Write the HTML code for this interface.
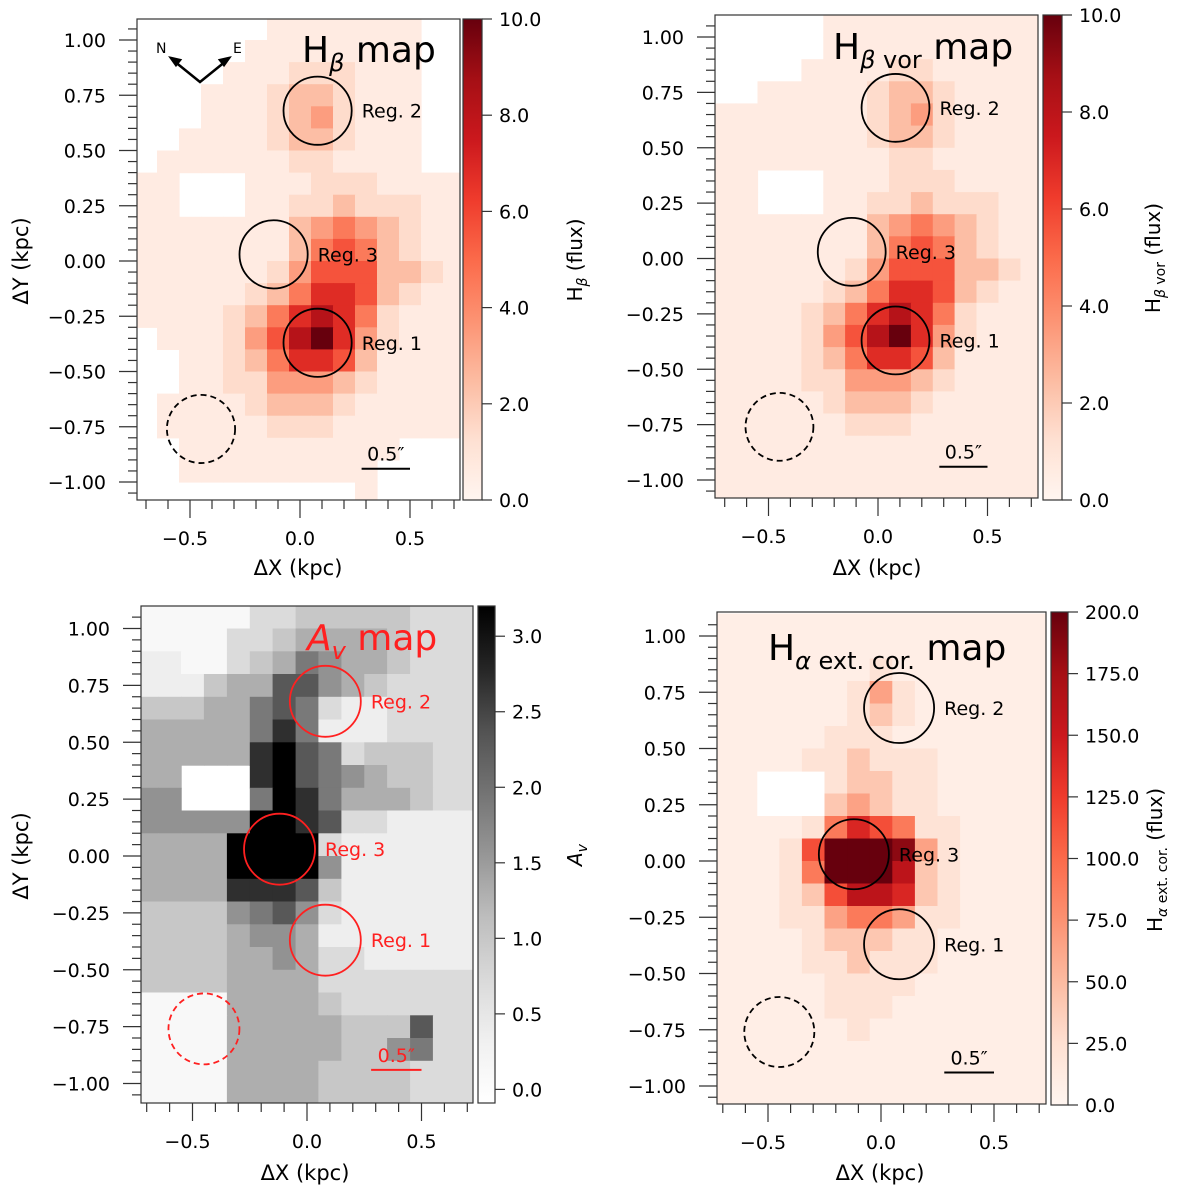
<!DOCTYPE html>
<html><head><meta charset="utf-8">
<style>
html,body{margin:0;padding:0;background:#fff;}
svg{display:block;font-family:"DejaVu Sans","Liberation Sans",sans-serif;}
</style></head>
<body>
<svg id="fig" width="1200" height="1195" viewBox="0 0 1200 1195" xmlns="http://www.w3.org/2000/svg">
<g id="static">
  <text x="302" y="62" font-size="36">H<tspan font-size="24" dy="9" font-style="italic">β</tspan><tspan dy="-9"> map</tspan></text>
  <text x="833" y="59" font-size="36">H<tspan font-size="24" dy="9"><tspan font-style="italic">β</tspan> vor</tspan><tspan dy="-9"> map</tspan></text>
  <text x="307" y="650" font-size="36" fill="#ff2020"><tspan font-style="italic">A</tspan><tspan font-size="24" dy="9" font-style="italic">v</tspan><tspan dy="-9"> map</tspan></text>
  <text x="768" y="660" font-size="36">H<tspan font-size="24" dy="9"><tspan font-style="italic">α</tspan> ext. cor.</tspan><tspan dy="-9"> map</tspan></text>
  <text x="298" y="575" font-size="21" text-anchor="middle">ΔX (kpc)</text>
  <text x="877" y="575" font-size="21" text-anchor="middle">ΔX (kpc)</text>
  <text x="305" y="1180" font-size="21" text-anchor="middle">ΔX (kpc)</text>
  <text x="880" y="1180" font-size="21" text-anchor="middle">ΔX (kpc)</text>
  <text transform="translate(28,261) rotate(-90)" font-size="21" text-anchor="middle">ΔY (kpc)</text>
  <text transform="translate(28,856) rotate(-90)" font-size="21" text-anchor="middle">ΔY (kpc)</text>
  <text transform="translate(582,260) rotate(-90)" font-size="20" text-anchor="middle">H<tspan font-size="14" dy="5" font-style="italic">β</tspan><tspan dy="-5"> (flux)</tspan></text>
  <text transform="translate(1160,258) rotate(-90)" font-size="20" text-anchor="middle">H<tspan font-size="14" dy="5"><tspan font-style="italic">β</tspan> vor</tspan><tspan dy="-5"> (flux)</tspan></text>
  <text transform="translate(582,855) rotate(-90)" font-size="20" text-anchor="middle"><tspan font-style="italic">A</tspan><tspan font-size="14" dy="5" font-style="italic">v</tspan></text>
  <text transform="translate(1162,860) rotate(-90)" font-size="20" text-anchor="middle">H<tspan font-size="14" dy="5"><tspan font-style="italic">α</tspan> ext. cor.</tspan><tspan dy="-5"> (flux)</tspan></text>
  <g stroke="#000" stroke-width="2.5" fill="none">
    <polyline points="174,61 200,82 226,61"/>
    <polygon points="171,58 180,60 176,65" fill="#000"/>
    <polygon points="229,58 220,60 224,65" fill="#000"/>
  </g>
  <text x="156" y="53" font-size="14">N</text>
  <text x="233" y="53" font-size="14">E</text>
</g>
</svg>
<script>
// rows top (y=1.05) to bottom (y=-1.05); cols x=-0.7..0.7 step 0.1; '.' = no data
const xCenters = [-0.7,-0.6,-0.5,-0.4,-0.3,-0.2,-0.1,0,0.1,0.2,0.3,0.4,0.5,0.6,0.7];
const yCenters = [1.05,0.95,0.85,0.75,0.65,0.55,0.45,0.35,0.25,0.15,0.05,-0.05,-0.15,-0.25,-0.35,-0.45,-0.55,-0.65,-0.75,-0.85,-0.95,-1.05];
const hbRows = [
"......1111111..",
".....11111111..",
"....111222111..",
"...1112332111..",
"...1112342111..",
"..11112332111..",
".111111221111..",
"11...1112221111",
"11...1122322211",
"111111134543211",
"111111135653211",
"111111246663321",
"111112357763211",
"111123578752111",
".11124689742111",
"..1123577631111",
"..1122444321111",
".11112333211111",
".11111222111111",
"..1111111111...",
"..111111111....",
"..........1...."];
const hbLevels = [0,0.6,1.4,2.4,3.4,4.5,5.6,6.8,8.2,10];
const hbvRows = [
".....1111111111",
".....1111111111",
"....11112211111",
"..1111123321111",
"111111123421111",
"111111123321111",
"111111112211111",
"11...1112221111",
"11...1122322211",
"111111134543211",
"111111135653211",
"111111246663321",
"111112357763211",
"111123578752111",
"111124689742111",
"111123577631111",
"111122444321111",
"111112333211111",
"111111222111111",
"111111111111111",
"111111111111111",
"111111111111111"];
const hbvLevels = [0,0.6,1.4,2.4,3.4,4.5,5.6,6.8,8.2,10];
const avRows = [
"000002233333222",
"000022344443222",
"110023465443222",
"111344775432222",
"333446762112222",
"444446861112222",
"444448976233322",
"44...8976543322",
"55...6986444322",
"555559987221111",
"444499992111111",
"444499995111111",
"444488873111111",
"333356752111111",
"333345541111111",
"333344542211111",
"333344442222222",
"000044443222222",
"000044444333722",
"000044444335622",
"000044443333222",
"000044443333222"];
const avLevels = [0.1,0.35,0.7,1.0,1.3,1.6,1.9,2.3,2.7,3.2];
const haRows = [
"000000000000000",
"000000000000000",
"000000010000000",
"000000131000000",
"000000121000000",
"000001110000000",
"000011211100000",
"00...1221100000",
"00...2321100000",
"000014654110000",
"000159998310000",
"000149997210000",
"000125776210000",
"000113443110000",
"000012221100000",
"000011211100000",
"000001111000000",
"000001110000000",
"000000100000000",
"000000000000000",
"000000000000000",
"000000000000000"];
const haLevels = [8,22,42,65,90,115,140,160,185,200];
const hbTicks = [0,2,4,6,8,10];
const avTicks = [0,0.5,1,1.5,2,2.5,3];
const haTicks = [0,25,50,75,100,125,150,175,200];
const xTicks = [-0.5,0,0.5];
const yTicks = [1,0.75,0.5,0.25,0,-0.25,-0.5,-0.75,-1];
const regNames = ["Reg. 1","Reg. 2","Reg. 3"];
const regX = [0.08,0.08,-0.12];
const regY = [-0.37,0.68,0.03];
const dashX = -0.45, dashY = -0.76, regR = 0.155;

const NS = "http://www.w3.org/2000/svg";
const svg = document.getElementById('fig');
function mk(tag, attrs, parent){const e=document.createElementNS(NS,tag);for(const k in attrs)e.setAttribute(k,attrs[k]);(parent||svg).appendChild(e);return e;}
function lerp(a,b,t){return a+(b-a)*t;}
function ramp(stops,t){t=Math.max(0,Math.min(1,t));const n=stops.length-1;const i=Math.min(n-1,Math.floor(t*n));const f=t*n-i;const a=stops[i],b=stops[i+1];return `rgb(${Math.round(lerp(a[0],b[0],f))},${Math.round(lerp(a[1],b[1],f))},${Math.round(lerp(a[2],b[2],f))})`;}
const REDS=[[255,245,240],[254,224,210],[252,187,161],[252,146,114],[251,106,74],[239,59,44],[203,24,29],[165,15,21],[103,0,13]];
const GREYS=[[255,255,255],[240,240,240],[217,217,217],[189,189,189],[150,150,150],[115,115,115],[82,82,82],[37,37,37],[0,0,0]];

const panels = [
 {id:1,rows:hbRows,levels:hbLevels,vmin:0,vmax:10,cmap:REDS,ticks:hbTicks,
  x0:300,sx:220,y0:261,sy:221,L:137,T:19,R:460,B:500,cbL:463,cbR:482,cbT:19,cbB:500,color:'#000'},
 {id:2,rows:hbvRows,levels:hbvLevels,vmin:0,vmax:10,cmap:REDS,ticks:hbTicks,
  x0:878,sx:219,y0:258.5,sy:221.5,L:715,T:15,R:1038,B:498,cbL:1043,cbR:1062,cbT:15,cbB:500,color:'#000'},
 {id:3,rows:avRows,levels:avLevels,vmin:-0.09,vmax:3.2,cmap:GREYS,ticks:avTicks,
  x0:307,sx:229,y0:856,sy:227.5,L:141,T:606,R:473,B:1103,cbL:478,cbR:495,cbT:606,cbB:1103,color:'#ff2020'},
 {id:4,rows:haRows,levels:haLevels,vmin:0,vmax:200,cmap:REDS,ticks:haTicks,
  x0:881,sx:226,y0:861,sy:225,L:717,T:612,R:1046,B:1104,cbL:1051,cbR:1068,cbT:612,cbB:1105,color:'#000'}
];

panels.forEach(p=>{
  const X=v=>p.x0+v*p.sx, Y=v=>p.y0-v*p.sy;
  const clipId='clip'+p.id;
  const defs=mk('defs',{});
  const cp=mk('clipPath',{id:clipId},defs);
  mk('rect',{x:p.L,y:p.T,width:p.R-p.L,height:p.B-p.T},cp);
  const g=mk('g',{'clip-path':`url(#${clipId})`});
  
  
  const norm=v=>(v-p.vmin)/(p.vmax-p.vmin);
  p.rows.forEach((row,ri)=>{
    for(let ci=0;ci<row.length;ci++){
      const ch=row[ci]; if(ch==='.') continue;
      const val=p.levels[+ch];
      const x1=X(xCenters[ci]-0.05), x2=X(xCenters[ci]+0.05), y1=Y(yCenters[ri]+0.05), y2=Y(yCenters[ri]-0.05);
      const r=mk('rect',{x:x1.toFixed(1),y:y1.toFixed(1),width:(x2-x1+0.6).toFixed(1),height:(y2-y1+0.6).toFixed(1),fill:ramp(p.cmap,norm(val))},g);
      
      
    }
  });
  const fr=mk('rect',{x:p.L,y:p.T,width:p.R-p.L,height:p.B-p.T,fill:'none',stroke:'#333','stroke-width':1.2});
  
  
  regNames.forEach((n,i)=>{
    const c=mk('circle',{cx:X(regX[i]),cy:Y(regY[i]),r:regR*p.sx,fill:'none',stroke:p.color,'stroke-width':1.8});
    
    
    const t=mk('text',{x:X(regX[i])+regR*p.sx+10,y:Y(regY[i])+7,'font-size':19,fill:p.color});
    t.textContent=n;
    
    
  });
  const dc=mk('circle',{cx:X(dashX),cy:Y(dashY),r:regR*p.sx,fill:'none',stroke:p.color,'stroke-width':1.8,'stroke-dasharray':'6,4'});
  
  
  const sb=mk('line',{x1:X(0.28),x2:X(0.5),y1:Y(-0.94),y2:Y(-0.94),stroke:p.color,'stroke-width':2});
  
  
  const sbt=mk('text',{x:X(0.39),y:Y(-0.94)-8,'font-size':19,'text-anchor':'middle',fill:p.color});
  sbt.textContent='0.5″';
  
  
  for(let k=-7;k<=7;k++){
    const v=k/10, major=(k%5===0);
    const tl=mk('line',{x1:X(v),x2:X(v),y1:p.B,y2:p.B+(major?18:9),stroke:'#333','stroke-width':1.2});
    
    
  }
  xTicks.forEach(v=>{
    const t=mk('text',{x:X(v)+(v<0?-5:0),y:p.B+45,'font-size':19,'text-anchor':'middle'});
    t.textContent=(v<0?'−':'')+Math.abs(v).toFixed(1);
    
    
  });
  for(let k=-21;k<=21;k++){
    const v=k/20; const y=Y(v); if(y<p.T-0.5||y>p.B+0.5) continue;
    const major=(k%5===0);
    const tl=mk('line',{x1:p.L,x2:p.L-(major?18:9),y1:y,y2:y,stroke:'#333','stroke-width':1.2});
    
    
  }
  yTicks.forEach(v=>{
    const t=mk('text',{x:p.L-31,y:Y(v)+7,'font-size':19,'text-anchor':'end'});
    t.textContent=(v<0?'−':'')+Math.abs(v).toFixed(2);
    
    
  });
  const gid='grad'+p.id;
  const lg=mk('linearGradient',{id:gid,x1:0,y1:1,x2:0,y2:0},defs);
  for(let i=0;i<=16;i++){mk('stop',{offset:i/16,'stop-color':ramp(p.cmap,i/16)},lg);}
  const cb=mk('rect',{x:p.cbL,y:p.cbT,width:p.cbR-p.cbL,height:p.cbB-p.cbT,fill:`url(#${gid})`,stroke:'#333','stroke-width':1.2});
  
  
  const CY=v=>p.cbB-(v-p.vmin)/(p.vmax-p.vmin)*(p.cbB-p.cbT);
  p.ticks.forEach(v=>{
    const l=mk('line',{x1:p.cbR,x2:p.cbR+10,y1:CY(v),y2:CY(v),stroke:'#333','stroke-width':1.2});
    
    
    const t=mk('text',{x:p.cbR+17,y:CY(v)+7,'font-size':19});
    t.textContent=v.toFixed(1);
    
    
  });
});
svg.appendChild(document.getElementById('static'));
</script>
</body></html>
